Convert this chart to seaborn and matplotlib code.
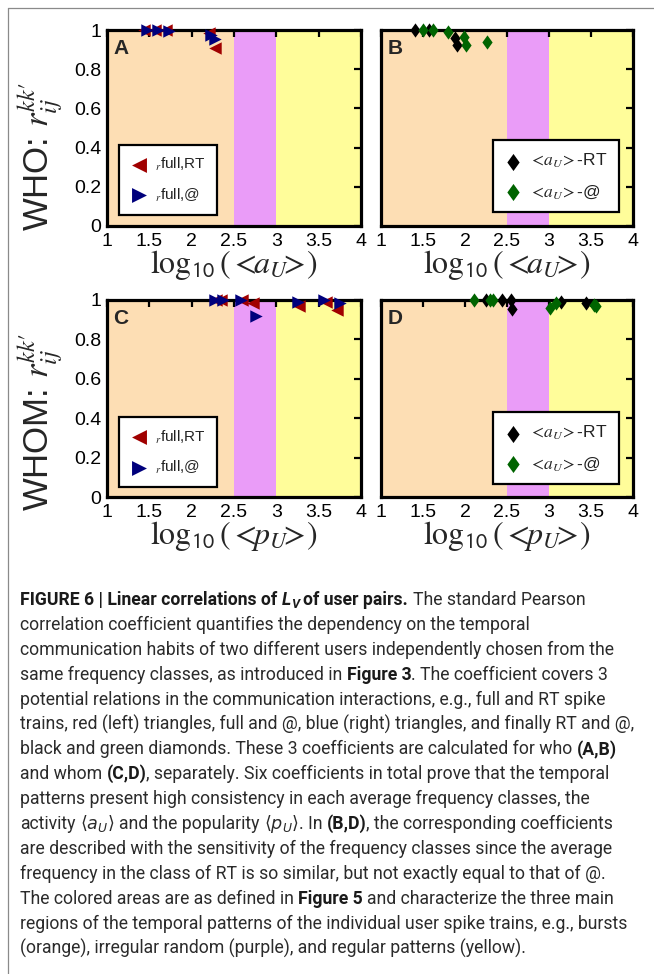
import numpy as np
import pandas as pd
import seaborn as sns
import matplotlib
matplotlib.use("Agg")
import matplotlib.pyplot as plt
from matplotlib.lines import Line2D
from matplotlib.path import Path
from matplotlib import font_manager

# ---------------- data ----------------
# panel A (who, activity classes)
a_full_rt_x = [1.44, 1.57, 1.70, 2.21, 2.27]
a_full_rt_r = [1.00, 1.00, 1.00, 0.985, 0.91]
a_full_at_x = [1.47, 1.60, 1.73, 2.23, 2.27]
a_full_at_r = [1.00, 1.00, 0.995, 0.975, 0.955]
# panel B (who, RT vs @)
b_rt_x = [1.40, 1.57, 1.88, 1.90]
b_rt_r = [1.00, 1.00, 0.96, 0.925]
b_at_x = [1.50, 1.62, 1.80, 1.99, 2.01, 2.26]
b_at_r = [1.00, 1.00, 0.99, 0.965, 0.925, 0.94]
# panel C (whom, popularity classes)
c_full_rt_x = [2.29, 2.35, 2.60, 2.72, 3.27, 3.59, 3.72]
c_full_rt_r = [1.00, 1.00, 1.00, 0.985, 0.97, 0.99, 0.95]
c_full_at_x = [2.27, 2.37, 2.58, 2.76, 3.25, 3.56, 3.75]
c_full_at_r = [1.00, 1.00, 1.00, 0.92, 0.99, 1.00, 0.985]
# panel D (whom, RT vs @)
d_rt_x = [2.25, 2.44, 2.55, 2.56, 3.14, 3.44]
d_rt_r = [1.00, 1.00, 1.00, 0.955, 0.99, 0.985]
d_at_x = [2.11, 2.30, 2.33, 3.01, 3.08, 3.54, 3.56]
d_at_r = [1.00, 1.00, 1.00, 0.96, 0.985, 0.975, 0.97]

region_edges = [1.0, 2.5, 3.0, 4.0]
region_colors = ["#fddeb4", "#ea9cf8", "#fffd9a"]

xtick_vals = [1, 1.5, 2, 2.5, 3, 3.5, 4]
xtick_labels = ["1", "1.5", "2", "2.5", "3", "3.5", "4"]
ytick_vals = [0, 0.2, 0.4, 0.6, 0.8, 1.0]
ytick_labels = ["0", "0.2", "0.4", "0.6", "0.8", "1"]

# ---------------- style ----------------
sns.set_theme(style="white")
names = {f.name for f in font_manager.fontManager.ttflist}
TICK_FONT = "Liberation Sans Narrow" if "Liberation Sans Narrow" in names else "Liberation Sans"
CAP_FONT = "Roboto" if "Roboto" in names else "Liberation Sans"
plt.rcParams["font.family"] = [TICK_FONT, "DejaVu Sans"]
plt.rcParams["mathtext.fontset"] = "stix"

RED, NAVY, BLACK, GREEN = "#a00000", "#00007c", "#000000", "#006400"
diamond = Path([(0, 1), (0.72, 0), (0, -1), (-0.72, 0), (0, 1)],
               [Path.MOVETO, Path.LINETO, Path.LINETO, Path.LINETO, Path.CLOSEPOLY])

W, H = 654, 974
fig = plt.figure(figsize=(W / 100, H / 100), dpi=100)


def axes_px(l, t, r, b):
    return fig.add_axes([l / W, 1 - b / H, (r - l) / W, (b - t) / H])


def setup(ax, letter):
    for lo, hi, col in zip(region_edges[:-1], region_edges[1:], region_colors):
        ax.axvspan(lo, hi, color=col, lw=0, zorder=0)
    ax.set_facecolor("none")
    ax.text(0.025, 0.955, letter, transform=ax.transAxes, fontsize=15,
            fontweight="bold", family="Liberation Sans", va="top", ha="left", zorder=6)


def finish(ax, show_ylabels):
    ax.set_xlim(1, 4)
    ax.set_ylim(0, 1)
    ax.set_xticks(xtick_vals)
    ax.set_xticklabels(xtick_labels)
    ax.set_yticks(ytick_vals)
    ax.set_yticklabels(ytick_labels if show_ylabels else [])
    ax.tick_params(direction="in", length=5, width=1.6, top=True, right=True,
                   labelsize=14, pad=4, colors="black")
    ax.tick_params(axis="x", pad=5)
    for s in ax.spines.values():
        s.set_linewidth(2.3)
        s.set_color("black")
        s.set_visible(True)
    ax.set_xlabel("")
    ax.set_ylabel("")


def scatter(ax, x, y, marker, color, label, s):
    df = pd.DataFrame({"x": x, "r": y})
    sns.scatterplot(data=df, x="x", y="r", ax=ax, marker=marker, color=color,
                    s=s, linewidth=0, label=label, clip_on=False, zorder=5)


def legend(ax, loc, anchor, stix):
    leg = ax.legend(loc=loc, bbox_to_anchor=anchor, frameon=True, fancybox=False,
                    edgecolor="black", framealpha=1, borderpad=0.75, labelspacing=0.85,
                    handletextpad=0.5, handlelength=1.1, fontsize=11, markerscale=1.2,
                    borderaxespad=0)
    leg.get_frame().set_linewidth(1.6)
    leg.set_zorder(7)
    for t in leg.get_texts():
        t.set_color("#222222")
        if stix:
            t.set_math_fontfamily("stix")
            t.set_fontsize(12.5)


axA = axes_px(107, 30, 361, 226)
axB = axes_px(381, 30, 633, 226)
axC = axes_px(107, 300, 361, 497)
axD = axes_px(381, 300, 633, 497)

tri_s = 80
dia_s = 105

lab_rt_full = r"$_{r}$full,RT"
lab_at_full = r"$_{r}$full,@"
lab_rt_a = r"$<\!a_U\!>$-RT"
lab_at_a = r"$<\!a_U\!>$-@"

setup(axA, "A")
scatter(axA, a_full_rt_x, a_full_rt_r, "<", RED, lab_rt_full, tri_s)
scatter(axA, a_full_at_x, a_full_at_r, ">", NAVY, lab_at_full, tri_s)
finish(axA, True)
legend(axA, "lower left", (0.047, 0.056), False)

setup(axB, "B")
scatter(axB, b_rt_x, b_rt_r, diamond, BLACK, lab_rt_a, dia_s)
scatter(axB, b_at_x, b_at_r, diamond, GREEN, lab_at_a, dia_s)
finish(axB, False)
legend(axB, "lower right", (0.945, 0.07), True)

setup(axC, "C")
scatter(axC, c_full_rt_x, c_full_rt_r, "<", RED, lab_rt_full, tri_s)
scatter(axC, c_full_at_x, c_full_at_r, ">", NAVY, lab_at_full, tri_s)
finish(axC, True)
legend(axC, "lower left", (0.047, 0.05), False)

setup(axD, "D")
scatter(axD, d_rt_x, d_rt_r, diamond, BLACK, lab_rt_a, dia_s)
scatter(axD, d_at_x, d_at_r, diamond, GREEN, lab_at_a, dia_s)
finish(axD, False)
legend(axD, "lower right", (0.945, 0.065), True)

# axis titles
xa = r"$\log_{\mathsf{10}}(\,\!<\!\!a_U\!\!>\!)$"
xp = r"$\log_{\mathsf{10}}(\,\!<\!\!p_U\!\!>\!)$"
for ax, lab in [(axA, xa), (axB, xa), (axC, xp), (axD, xp)]:
    ax.text(0.5, -0.2, lab, transform=ax.transAxes, ha="center", va="center",
            fontsize=23, math_fontfamily="stix")

fig.text(40 / W, 1 - 157 / H, r"WHO: $r_{ij}^{kk\prime}$", rotation=90, ha="center",
         va="center", fontsize=25, math_fontfamily="stix")
fig.text(40 / W, 1 - 422 / H, r"WHOM: $r_{ij}^{kk\prime}$", rotation=90, ha="center",
         va="center", fontsize=25, math_fontfamily="stix")

# frame rule
fig.add_artist(Line2D([8 / W, 8 / W], [1 - 8 / H, 0], transform=fig.transFigure,
                      color="#8a8a8a", lw=0.9))
fig.add_artist(Line2D([8 / W, 1], [1 - 8 / H, 1 - 8 / H], transform=fig.transFigure,
                      color="#8a8a8a", lw=0.9))

# ---------------- caption ----------------
renderer = fig.canvas.get_renderer()
base = dict(family=[CAP_FONT, "DejaVu Sans"], fontsize=12.7, color="#2b2b2b", weight="normal")
bold = dict(base, weight="bold", color="#1a1a1a")
bolditalic = dict(bold, style="italic")
subbi = dict(bolditalic, fontsize=9.2)
math = dict(base, math_fontfamily="dejavusans")


def text_width(s, props):
    t = fig.text(0, 0, s, **props)
    w = t.get_window_extent(renderer).width
    t.remove()
    return w


def space_width(props):
    return text_width("n n", props) - text_width("nn", props)


def draw_line(x_px, y_px, segments):
    x = x_px
    for seg in segments:
        s, props = seg[0], seg[1]
        dy = seg[2] if len(seg) > 2 else 0
        lead = len(s) - len(s.lstrip(" "))
        trail = len(s) - len(s.rstrip(" "))
        core = s.strip(" ")
        sw = space_width(props)
        x += lead * sw
        if core:
            t = fig.text(x / W, 1 - (y_px + dy) / H, core, ha="left", va="baseline", **props)
            x += t.get_window_extent(renderer).width
        x += trail * sw


caption = [
    [("FIGURE 6 | Linear correlations of ", bold), ("L", bolditalic), ("V", subbi, 3),
     (" of user pairs.", bold), (" The standard Pearson", base)],
    [("correlation coefficient quantifies the dependency on the temporal", base)],
    [("communication habits of two different users independently chosen from the", base)],
    [("same frequency classes, as introduced in ", base), ("Figure 3", bold),
     (". The coefficient covers 3", base)],
    [("potential relations in the communication interactions, e.g., full and RT spike", base)],
    [("trains, red (left) triangles, full and @, blue (right) triangles, and finally RT and @,", base)],
    [("black and green diamonds. These 3 coefficients are calculated for who ", base),
     ("(A,B)", bold)],
    [("and whom ", base), ("(C,D)", bold),
     (", separately. Six coefficients in total prove that the temporal", base)],
    [("patterns present high consistency in each average frequency classes, the", base)],
    [("activity ", base), (r"$\langle a_U\rangle$", math), (" and the popularity ", base),
     (r"$\langle p_U\rangle$", math), (". In ", base), ("(B,D)", bold),
     (", the corresponding coefficients", base)],
    [("are described with the sensitivity of the frequency classes since the average", base)],
    [("frequency in the class of RT is so similar, but not exactly equal to that of @.", base)],
    [("The colored areas are as defined in ", base), ("Figure 5", bold),
     (" and characterize the three main", base)],
    [("regions of the temporal patterns of the individual user spike trains, e.g., bursts", base)],
    [("(orange), irregular random (purple), and regular patterns (yellow).", base)],
]

y0 = 605
for i, segs in enumerate(caption):
    draw_line(20, y0 + i * 24.9, segs)

fig.savefig("out.png", dpi=100)
